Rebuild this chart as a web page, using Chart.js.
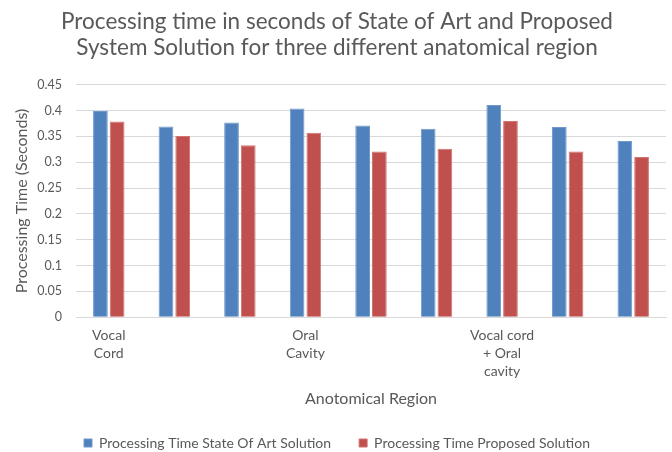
<!DOCTYPE html>
<html>
<head>
<meta charset="utf-8">
<script src="https://cdn.jsdelivr.net/npm/chart.js@4"></script>
<style>
  html, body { margin: 0; padding: 0; background: #fff; }
  #wrap { width: 672px; height: 452px; }
</style>
</head>
<body>
<div id="wrap"><canvas id="myChart" width="672" height="452"></canvas></div>
<script>
const regionLabels = [
    ["Vocal", "Cord"], "", "",
    ["Oral", "Cavity"], "", "",
    ["Vocal cord", "+ Oral", "cavity"], "", ""
];
const stateOfArtTimes = [0.399, 0.369, 0.377, 0.404, 0.371, 0.365, 0.411, 0.368, 0.341];
const proposedTimes = [0.379, 0.351, 0.333, 0.357, 0.321, 0.326, 0.380, 0.321, 0.310];
const yTicks = [0, 0.05, 0.1, 0.15, 0.2, 0.25, 0.3, 0.35, 0.4, 0.45];

const textColor = "#595959";
const fontFamily = "Lato, 'Open Sans', sans-serif";

document.addEventListener('DOMContentLoaded', function () {
    new Chart("myChart", {
        type: "bar",
        data: {
            labels: regionLabels,
            datasets: [{
                label: "Processing Time State Of Art Solution",
                data: stateOfArtTimes,
                backgroundColor: "#4f81bd",
                borderColor: "#6f98cc",
                borderWidth: 1
            }, {
                label: "Processing Time Proposed Solution",
                data: proposedTimes,
                backgroundColor: "#c0504d",
                borderColor: "#d27371",
                borderWidth: 1
            }]
        },
        options: {
            responsive: false,
            animation: false,
            // legend sits low in the picture, so let its box hang past the bottom edge
            layout: { padding: { left: 8, right: 6, top: 5, bottom: -8 } },
            datasets: {
                bar: { categoryPercentage: 0.51, barPercentage: 0.88 }
            },
            plugins: {
                title: {
                    display: true,
                    text: ["Processing time in seconds of State of Art and Proposed",
                           "System Solution for three different anatomical region"],
                    color: textColor,
                    font: { family: fontFamily, size: 22.5, weight: "normal", lineHeight: 1.15 },
                    padding: { top: 4, bottom: 24 }
                },
                legend: {
                    position: "bottom",
                    labels: {
                        color: textColor,
                        font: { family: fontFamily, size: 14 },
                        boxWidth: 8,
                        boxHeight: 8,
                        padding: 28
                    }
                },
                tooltip: { enabled: false }
            },
            scales: {
                x: {
                    grid: { display: false },
                    border: { display: true, color: "#d9d9d9" },
                    ticks: {
                        color: textColor,
                        font: { family: fontFamily, size: 14, lineHeight: 1.3 },
                        maxRotation: 0,
                        autoSkip: false,
                        padding: 1
                    },
                    title: {
                        display: true,
                        text: "Anotomical Region",
                        color: textColor,
                        font: { family: fontFamily, size: 16 },
                        padding: { top: 7, bottom: 0 }
                    }
                },
                y: {
                    min: 0,
                    max: yTicks[yTicks.length - 1],
                    afterBuildTicks: function (axis) {
                        axis.ticks = yTicks.map(function (v) { return { value: v }; });
                    },
                    afterFit: function (axis) {
                        axis.width = 68;
                    },
                    grid: { color: "#d9d9d9", drawTicks: false },
                    border: { display: false },
                    ticks: {
                        color: textColor,
                        font: { family: fontFamily, size: 12.5 },
                        padding: 14,
                        callback: function (v) { return String(+v.toFixed(2)); }
                    },
                    title: {
                        display: true,
                        text: "Processing Time (Seconds)",
                        color: textColor,
                        font: { family: fontFamily, size: 16 },
                        padding: { bottom: 0 }
                    }
                }
            }
        }
    });
});
</script>
</body>
</html>
